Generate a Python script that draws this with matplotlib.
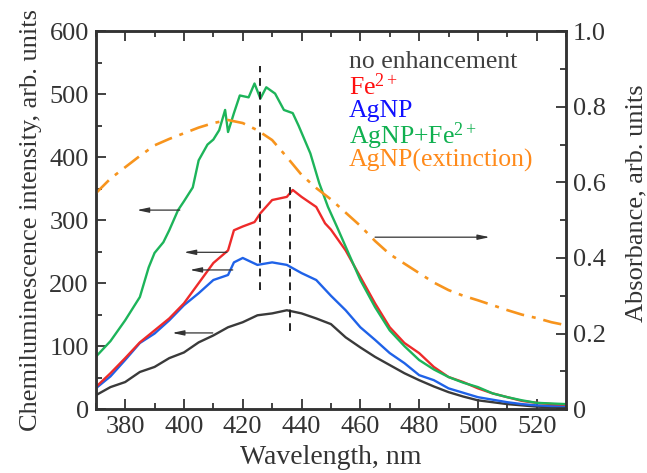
"""Chemiluminescence spectra with AgNP extinction on a twin axis."""

import matplotlib

matplotlib.use("Agg")
import matplotlib.pyplot as plt
from matplotlib.ticker import MultipleLocator

plt.rcParams["font.family"] = ["Liberation Serif", "DejaVu Serif"]
plt.rcParams["mathtext.fontset"] = "custom"
plt.rcParams["mathtext.rm"] = "Liberation Serif"
plt.rcParams["mathtext.it"] = "Liberation Serif:italic"

# emission spectra (left axis)
green_wl = [370, 375, 380, 385, 388, 390, 393, 395, 398, 400, 403, 405, 408, 410, 412, 414, 415,
            417, 419, 422, 424, 426, 428, 431, 434, 437, 439, 443, 446, 449, 452, 455, 460, 465,
            470, 475, 480, 485, 490, 495, 500, 505, 510, 515, 520, 525, 530]
green_val = [83, 108, 141, 178, 225, 248, 265, 284, 316, 330, 352, 395, 420, 428, 443, 475, 440,
             470, 498, 495, 517, 493, 511, 501, 475, 470, 450, 406, 359, 321, 290, 258, 205, 162,
             125, 100, 78, 63, 51, 42, 35, 25, 19, 14, 10, 9, 8]

red_wl = [370, 375, 380, 385, 390, 395, 400, 405, 410, 415, 417, 420, 424, 426, 430, 435, 437,
          440, 445, 448, 450, 455, 460, 465, 470, 475, 480, 485, 490, 495, 500, 505, 510, 515,
          520, 525, 530]
red_val = [35, 57, 81, 106, 125, 144, 168, 200, 232, 252, 284, 290, 297, 311, 332, 337, 348,
           337, 321, 295, 285, 252, 210, 168, 130, 105, 89, 67, 51, 43, 33, 25, 19, 13,
           10, 8, 7]

blue_wl = [370, 375, 380, 385, 390, 395, 400, 405, 410, 415, 417, 420, 425, 430, 435, 440, 445,
           450, 455, 460, 465, 470, 475, 480, 485, 490, 495, 500, 505, 510, 515, 520, 525, 530]
blue_val = [33, 52, 78, 105, 120, 141, 165, 184, 205, 213, 233, 240, 229, 233, 229, 216, 205,
            180, 157, 130, 110, 89, 73, 54, 46, 33, 26, 19, 15, 11, 8, 6, 5, 5]

black_wl = [370, 375, 380, 385, 390, 395, 400, 405, 410, 415, 420, 425, 430, 435, 440, 445, 450,
            455, 460, 465, 470, 475, 480, 485, 490, 495, 500, 505, 510, 515, 520, 525, 530]
black_val = [22, 35, 43, 59, 67, 81, 90, 106, 117, 130, 138, 149, 152, 157, 152, 144, 135,
             114, 98, 83, 70, 57, 46, 36, 27, 20, 14, 11, 8, 6, 4, 3, 3]

# extinction (right axis)
ext_wl = [370, 375, 380, 385, 390, 395, 400, 405, 410, 415, 420, 425, 430, 435, 440, 445, 450,
          455, 460, 465, 470, 475, 480, 485, 490, 495, 500, 505, 510, 515, 520, 525, 530]
ext_val = [0.571, 0.61, 0.64, 0.67, 0.698, 0.715, 0.730, 0.745, 0.757, 0.765, 0.757, 0.738,
           0.712, 0.667, 0.62, 0.585, 0.555, 0.52, 0.485, 0.445, 0.41, 0.385, 0.36, 0.335,
           0.315, 0.30, 0.288, 0.275, 0.262, 0.25, 0.241, 0.23, 0.222]

# peak markers: (wavelength, y from, y to)
peak_lines = [(426, 189, 544), (436, 124, 355)]

# arrows on left axis: (x tail, x head, y)
left_arrows = [(398.6, 384, 316), (414.6, 400, 249), (416.6, 402, 221), (409.8, 396, 121)]
# arrow pointing to right axis (in left-axis units)
right_arrow = (465, 504, 273)

legend_lines = ["no enhancement", "Fe$^{2+}$", "AgNP", "AgNP+Fe$^{2+}$", "AgNP(extinction)"]
legend_colors = ["#404040", "#ff1010", "#1010ff", "#10b050", "#ff8a1a"]

edge = "#333333"
fs = 19

fig = plt.figure(figsize=(6.47, 4.73), dpi=100)
ax = fig.add_axes([0.148, 0.135, 0.727, 0.799])
ax2 = ax.twinx()

ax.plot(black_wl, black_val, color="#3a3a3a", lw=1.7)
ax.plot(blue_wl, blue_val, color="#1f62e8", lw=1.7)
ax.plot(red_wl, red_val, color="#ee2a2a", lw=1.7)
ax.plot(green_wl, green_val, color="#1db45a", lw=1.7)
ax2.plot(ext_wl, ext_val, color="#f7941d", lw=1.9, dashes=(7, 3, 1.5, 3))

for wl, y0, y1 in peak_lines:
    ax.plot([wl, wl], [y0, y1], color="#222222", lw=1.4, dashes=(4, 3))

for x0, x1, y in left_arrows + [right_arrow]:
    ax.annotate("", xy=(x1, y), xytext=(x0, y),
                arrowprops=dict(arrowstyle="-|>,head_length=0.7,head_width=0.15",
                                color="#333333", lw=0.9, shrinkA=0, shrinkB=0))

for i, (txt, col) in enumerate(zip(legend_lines, legend_colors)):
    ax.text(0.538, 0.918 - i * 0.065, txt, color=col, fontsize=18.5,
            transform=ax.transAxes, va="center", ha="left")

ax.set_xlim(370, 530)
ax.set_ylim(0, 600)
ax2.set_ylim(0, 1.0)

ax.xaxis.set_major_locator(MultipleLocator(20))
ax.xaxis.set_minor_locator(MultipleLocator(10))
ax.yaxis.set_major_locator(MultipleLocator(100))
ax.yaxis.set_minor_locator(MultipleLocator(50))
ax2.yaxis.set_minor_locator(MultipleLocator(0.1))
ax2.set_yticks([0, 0.2, 0.4, 0.6, 0.8, 1.0])
ax2.set_yticklabels(["0", "0.2", "0.4", "0.6", "0.8", "1.0"])

ax.tick_params(which="both", direction="in", top=True, right=False, colors=edge,
               labelsize=fs, labelcolor="#333333", width=1.3)
ax.tick_params(which="major", length=7, pad=5)
ax.tick_params(which="minor", length=4)
ax2.tick_params(which="both", direction="in", colors=edge, labelsize=fs,
                labelcolor="#333333", width=1.3)
ax2.tick_params(which="major", length=7, pad=5)
ax2.tick_params(which="minor", length=4)

for a in (ax, ax2):
    for s in a.spines.values():
        s.set_color(edge)
        s.set_linewidth(1.8)

ax.set_xlabel("Wavelength, nm", fontsize=20, color="#333333", labelpad=5)
ax.set_ylabel("Chemiluminescence intensity, arb. units", fontsize=fs, color="#333333",
              labelpad=5)
ax2.set_ylabel("Absorbance, arb. units", fontsize=fs, color="#333333", labelpad=14)
ax2.yaxis.label.set_position((1, 0.545))

fig.savefig("out.png", dpi=100)
